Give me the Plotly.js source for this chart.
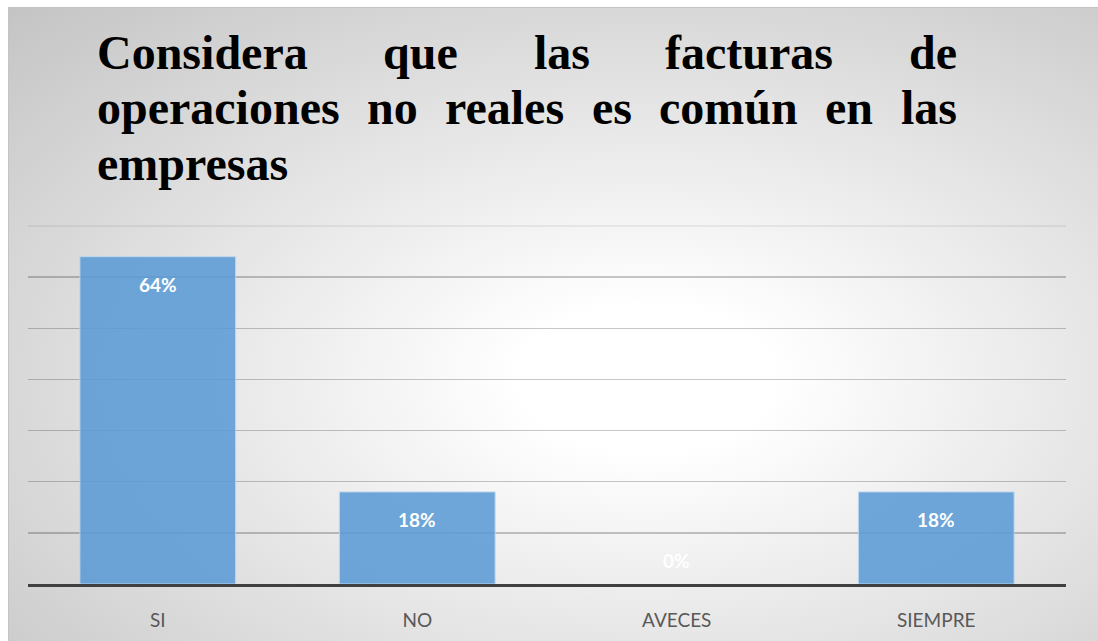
<!DOCTYPE html>
<html>
<head>
<meta charset="utf-8">
<script src="https://cdn.plot.ly/plotly-3.0.1.min.js"></script>
<style>
html,body{margin:0;padding:0;background:#ffffff;width:1098px;height:641px;overflow:hidden;}
#bg{position:absolute;left:8px;top:7px;width:1100px;height:640px;box-sizing:border-box;
  border-left:1px solid #c4c4c4;border-top:1px solid #c4c4c4;
  background:radial-gradient(ellipse farthest-corner at 58% 58%, #ffffff 0%, #ffffff 14%, #c4c4c4 100%);}
#chart{position:absolute;left:0;top:0;width:1098px;height:641px;}
</style>
</head>
<body>
<div id="bg"></div>
<div id="chart"></div>
<script>
// ---- data ----
const categories = ["SI", "NO", "AVECES", "SIEMPRE"];
const values = [0.64, 0.18, 0.00, 0.18];
const titleText = "Considera que las facturas de operaciones no reales es común en las empresas";
const titleLineWordCounts = [5, 7, 1];

// ---- layout constants ----
const W = 1098, H = 641;
const M = {l: 28, r: 32, t: 226, b: 57};
const pw = W - M.l - M.r, ph = H - M.t - M.b;
const titleFont = "'Liberation Serif', 'Times New Roman', serif";
const titleSize = 48;
const titleLeft = 97, titleRight = 957;
const baselines = [72, 127, 182];
const labelFont = "Lato, 'Open Sans', sans-serif";

const ctx = document.createElement('canvas').getContext('2d');
ctx.font = "bold " + titleSize + "px " + titleFont;

const words = titleText.split(" ");
const annotations = [];
let wi = 0;
titleLineWordCounts.forEach((n, li) => {
  const lw = words.slice(wi, wi + n); wi += n;
  const widths = lw.map(w => ctx.measureText(w).width);
  const total = widths.reduce((a, b) => a + b, 0);
  const justify = li < titleLineWordCounts.length - 1 && n > 1;
  const gap = justify ? (titleRight - titleLeft - total) / (n - 1) : ctx.measureText(" ").width;
  let px = titleLeft;
  lw.forEach((w, k) => {
    annotations.push({
      text: "<b>" + w + "</b>", xref: "paper", yref: "paper",
      x: (px - M.l) / pw, y: 1 - ((baselines[li] - 19) - M.t) / ph,
      xanchor: "left", yanchor: "middle", showarrow: false,
      borderpad: 0, borderwidth: 0,
      font: {family: titleFont, size: titleSize, color: "#000000"}
    });
    px += widths[k] + gap;
  });
});

// data labels
categories.forEach((c, i) => {
  annotations.push({
    text: "<b>" + Math.round(values[i] * 100) + "%</b>",
    x: c, y: values[i], xref: "x", yref: "y",
    xanchor: "center", yanchor: "middle",
    yshift: values[i] > 0 ? -28 : 24,
    showarrow: false,
    font: {family: labelFont, size: 19, color: "#ffffff"}
  });
});

const trace = {
  type: "bar", x: categories, y: values,
  marker: {color: "rgba(91,155,213,0.88)",
    line: {color: "rgba(189,215,238,0.95)", width: values.map(v => v > 0 ? 1 : 0)}},
  hoverinfo: "skip"
};

const layout = {
  width: W, height: H,
  margin: {l: M.l, r: M.r, t: M.t, b: M.b, pad: 0},
  paper_bgcolor: "rgba(0,0,0,0)", plot_bgcolor: "rgba(0,0,0,0)",
  bargap: 0.4, showlegend: false,
  xaxis: {
    type: "category", showgrid: false, zeroline: false,
    showline: true, linecolor: "#404040", linewidth: 2.5,
    ticks: "", ticklabelstandoff: 18,
    tickfont: {family: labelFont, size: 19, color: "#595959"}
  },
  yaxis: {
    range: [0, 0.7], dtick: 0.1, showgrid: true, gridcolor: "rgba(0,0,0,0.22)", gridwidth: 1.3,
    zeroline: false, showticklabels: false, ticks: ""
  },
  shapes: [{type: "line", xref: "paper", yref: "paper", x0: 0, x1: 1, y0: 1, y1: 1,
    line: {color: "rgba(0,0,0,0.08)", width: 1.3}, layer: "below"}],
  annotations: annotations
};

Plotly.newPlot("chart", [trace], layout, {displayModeBar: false, staticPlot: true});
</script>
</body>
</html>
